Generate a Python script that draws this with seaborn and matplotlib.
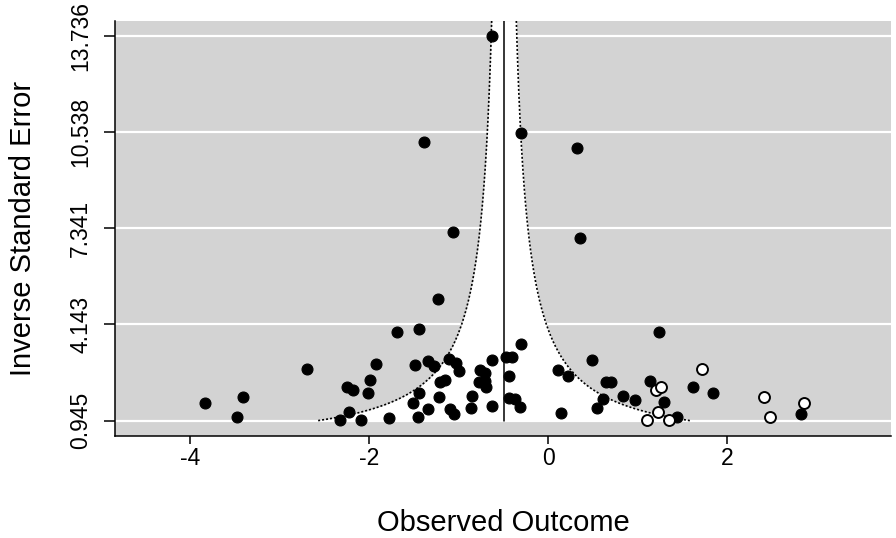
import numpy as np
import pandas as pd
import matplotlib
matplotlib.use("Agg")
import matplotlib.pyplot as plt
import seaborn as sns

# ---- data ----
obs_x = [-0.628, -1.387, -0.301, 0.320, -1.064, 0.354, -1.234, -1.440, -1.692, 1.239,
         -3.831, -3.407, -3.474, -2.696, -1.920, -1.990, -2.016, -2.247, -2.183, -2.221,
         -2.321, -2.085, -1.778,
         -1.488, -1.339, -1.276, -1.103, -1.030, -0.993, -1.209, -1.150, -1.440, -1.510,
         -1.223, -1.339, -1.458, -1.097, -1.052, -0.866, -0.846, -0.623, -0.762, -0.701,
         -0.777, -0.710, -0.692, -0.623, -0.469, -0.400, -0.435, -0.299, -0.435, -0.368,
         -0.316,
         0.105, 0.223, 0.145, 0.493, 0.644, 0.700, 0.614, 0.544, 0.831, 0.971,
         1.138, 1.291, 1.433, 1.612, 1.836, 2.820]
obs_inv_se = [13.736, 10.214, 10.503, 10.015, 7.224, 7.025, 4.988, 3.992, 3.892, 3.878,
              1.526, 1.726, 1.055, 2.673, 2.839, 2.307, 1.865, 2.075, 1.958, 1.221,
              0.950, 0.955, 1.021,
              2.795, 2.938, 2.772, 2.995, 2.872, 2.583, 2.241, 2.284, 1.875, 1.520,
              1.732, 1.334, 1.068, 1.334, 1.168, 1.377, 1.759, 2.972, 2.639, 2.530,
              2.214, 2.267, 2.051, 1.420, 3.071, 3.071, 2.417, 3.493, 1.683, 1.666,
              1.410,
              2.616, 2.417, 1.211, 2.972, 2.224, 2.224, 1.666, 1.367, 1.759, 1.619,
              2.274, 1.566, 1.068, 2.065, 1.865, 1.168]

fill_x = [1.715, 1.205, 1.258, 1.224, 1.104, 1.344, 2.410, 2.478, 2.850]
fill_inv_se = [2.673, 1.965, 2.075, 1.221, 0.950, 0.955, 1.719, 1.061, 1.520]

estimate = -0.494
y_ticks = [0.945, 4.143, 7.341, 10.538, 13.736]
y_tick_labels = ["0.945", "4.143", "7.341", "10.538", "13.736"]
x_ticks = [-4, -2, 0, 2]
x_tick_labels = ["-4", "-2", "0", "2"]

obs = pd.DataFrame({"x": obs_x, "y": obs_inv_se})
fil = pd.DataFrame({"x": fill_x, "y": fill_inv_se})

# ---- figure ----
sns.set_style("white")
plt.rcParams["font.family"] = ["Liberation Sans", "DejaVu Sans"]
plt.rcParams["text.color"] = "black"
plt.rcParams["axes.labelcolor"] = "black"
plt.rcParams["xtick.color"] = "black"
plt.rcParams["ytick.color"] = "black"

fig = plt.figure(figsize=(8.96, 5.38), dpi=100)
ax = fig.add_axes([0.1283, 0.1896, 0.8661, 0.7721])
ax.set_facecolor("#d3d3d3")

ymin, ymax = y_ticks[0], y_ticks[-1]
pad = 0.04 * (ymax - ymin)
ylo, yhi = ymin - pad, ymax + pad
ax.set_ylim(ylo, yhi)
ax.set_xlim(-4.836, 3.825)

# grid lines
for yt in y_ticks:
    ax.axhline(yt, color="white", lw=1.6, zorder=1)

# funnel region
yy = np.linspace(ymin, yhi, 400)
lo = estimate - 1.96 / yy
hi = estimate + 1.96 / yy
ax.fill_betweenx(yy, lo, hi, color="white", zorder=2, lw=0)
ax.plot(lo, yy, color="black", ls=(0, (1.2, 1.2)), lw=1.2, zorder=3)
ax.plot(hi, yy, color="black", ls=(0, (1.2, 1.2)), lw=1.2, zorder=3)
ax.plot([estimate, estimate], [ymin, yhi], color="black", lw=1.1, zorder=3)

# points
sns.scatterplot(data=obs, x="x", y="y", ax=ax, color="black", edgecolor="black",
                s=62, linewidth=0.8, zorder=5, legend=False)
sns.scatterplot(data=fil, x="x", y="y", ax=ax, color="white", edgecolor="black",
                s=62, linewidth=1.4, zorder=5, legend=False)

# axes styling
ax.set_yticks(y_ticks)
ax.set_yticklabels(y_tick_labels, rotation=90, va="center", fontsize=16.5,
                   color="black")
ax.set_xticks(x_ticks)
ax.set_xticklabels(x_tick_labels, fontsize=16.5, color="black")
ax.tick_params(axis="y", direction="out", length=8, width=1.1, color="black",
               left=True, pad=8.5)
ax.tick_params(axis="x", direction="out", length=6, width=1.1, color="black",
               bottom=True, pad=2)
for side in ["top", "right"]:
    ax.spines[side].set_visible(False)
for side in ["left", "bottom"]:
    ax.spines[side].set_visible(True)
    ax.spines[side].set_color("black")
    ax.spines[side].set_linewidth(1.1)

ax.set_xlabel("Observed Outcome", fontsize=21, labelpad=28, color="black")
ax.set_ylabel("Inverse Standard Error", fontsize=21, labelpad=23, color="black")

fig.savefig("out.png", dpi=100)
